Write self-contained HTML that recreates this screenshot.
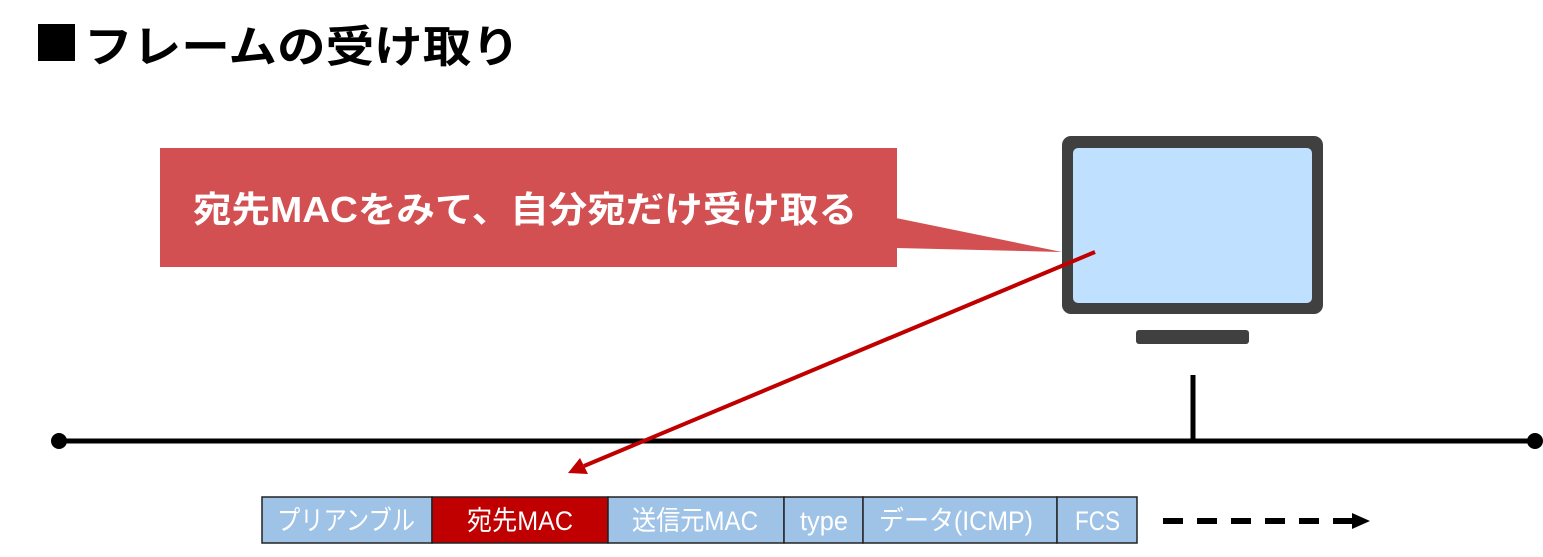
<!DOCTYPE html>
<html><head><meta charset="utf-8"><style>
html,body{margin:0;padding:0;background:#fff;}
svg{display:block;}
text{font-family:"Liberation Sans","Noto Sans CJK JP",sans-serif;}
</style></head><body>
<svg width="1543" height="557" viewBox="0 0 1543 557" xmlns="http://www.w3.org/2000/svg">
<rect x="38" y="24" width="37" height="37" fill="#000"/>
<text x="84" y="62" font-size="44" font-weight="bold" textLength="436" lengthAdjust="spacingAndGlyphs" fill="#000">フレームの受け取り</text>
<rect x="160" y="148" width="737" height="119" fill="#d35052"/>
<polygon points="896,218 1062,252 896,248" fill="#d35052"/>
<text x="193" y="222" font-size="36" font-weight="bold" fill="#fff" textLength="664" lengthAdjust="spacingAndGlyphs">宛先MACをみて、自分宛だけ受け取る</text>
<rect x="1062" y="136" width="261" height="178" rx="9" fill="#404040"/>
<rect x="1073" y="148" width="239" height="155" rx="5" fill="#bfe0fe"/>
<rect x="1136" y="330" width="113" height="14" rx="3" fill="#404040"/>
<line x1="1193" y1="375" x2="1193" y2="441" stroke="#000" stroke-width="5"/>
<line x1="59" y1="441" x2="1535" y2="441" stroke="#000" stroke-width="5"/>
<circle cx="59" cy="441" r="8" fill="#000"/>
<circle cx="1535" cy="441" r="8" fill="#000"/>
<line x1="1095" y1="252" x2="584" y2="466" stroke="#c00000" stroke-width="4"/>
<polygon points="568,473 580,458 588,474" fill="#c00000"/>
<g stroke="#222" stroke-width="1.5">
<rect x="262" y="497" width="170" height="46" fill="#9fc3e6"/>
<rect x="432" y="497" width="176" height="46" fill="#c00000"/>
<rect x="608" y="497" width="176" height="46" fill="#9fc3e6"/>
<rect x="784" y="497" width="79" height="46" fill="#9fc3e6"/>
<rect x="863" y="497" width="194" height="46" fill="#9fc3e6"/>
<rect x="1057" y="497" width="80" height="46" fill="#9fc3e6"/>
</g>
<g font-size="27" fill="#fff" lengthAdjust="spacingAndGlyphs">
<text x="277" y="530" textLength="138" lengthAdjust="spacingAndGlyphs">プリアンブル</text>
<text x="467" y="530" textLength="106" lengthAdjust="spacingAndGlyphs">宛先MAC</text>
<text x="632" y="530" textLength="126" lengthAdjust="spacingAndGlyphs">送信元MAC</text>
<text x="800" y="530" textLength="48" lengthAdjust="spacingAndGlyphs">type</text>
<text x="879" y="530" textLength="154" lengthAdjust="spacingAndGlyphs">データ(ICMP)</text>
<text x="1075" y="530" textLength="45" lengthAdjust="spacingAndGlyphs">FCS</text>
</g>
<line x1="1163" y1="521" x2="1352" y2="521" stroke="#000" stroke-width="6" stroke-dasharray="20,14"/>
<polygon points="1352,513 1370,521 1352,529" fill="#000"/>
</svg>
</body></html>
